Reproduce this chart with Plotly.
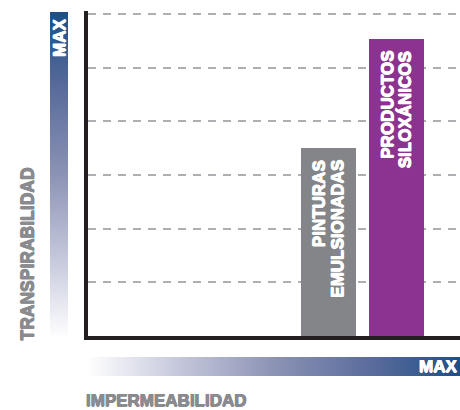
import base64
import plotly.graph_objects as go

# ---- data ----
categories = ["PINTURAS EMULSIONADAS", "PRODUCTOS SILOXÁNICOS"]
label_lines = [["PINTURAS", "EMULSIONADAS"], ["PRODUCTOS", "SILOXÁNICOS"]]
values = [3.5, 5.53]
bar_colors = ["#838589", "#8c3390"]
y_title = "TRANSPIRABILIDAD"
x_title = "IMPERMEABILIDAD"
max_label = "MAX"

W, H = 460, 410
FONT = "Liberation Sans, Arial, sans-serif"
GREY_TXT = "#8a8b8e"
AXIS_BLACK = "#231f20"

# plot area in pixels (top gridline at 14 px, baseline at 336 px)
Y_TOP = 6.05
left_px, right_px, bottom_px = 88, 460, 336
grid_px = (336 - 14) / 6.0
top_px = 14 - (Y_TOP - 6) * grid_px


def px_x(p):
    return p / W


def px_y(p):
    return 1 - p / H


def gradient_svg(vertical):
    if vertical:
        coords = 'x1="0" y1="1" x2="0" y2="0"'
    else:
        coords = 'x1="0" y1="0" x2="1" y2="0"'
    svg = (
        '<svg xmlns="http://www.w3.org/2000/svg" width="100" height="100" preserveAspectRatio="none">'
        f'<defs><linearGradient id="g" {coords}>'
        '<stop offset="0" stop-color="#ffffff"/>'
        '<stop offset="0.25" stop-color="#c4c7db"/>'
        '<stop offset="0.5" stop-color="#8c93b5"/>'
        '<stop offset="0.78" stop-color="#56699a"/>'
        '<stop offset="1" stop-color="#1e4f85"/>'
        '</linearGradient></defs>'
        '<rect x="0" y="0" width="100" height="100" fill="url(#g)"/></svg>'
    )
    return "data:image/svg+xml;base64," + base64.b64encode(svg.encode()).decode()


def tfont(size, color):
    heavy = f"0.5px 0 0 {color}, -0.5px 0 0 {color}, 0 0.5px 0 {color}, 0 -0.5px 0 {color}"
    return dict(family=FONT, size=size, color=color, weight="bold", shadow=heavy)


xcat = [0, 1]
fig = go.Figure()
fig.add_trace(go.Bar(
    x=xcat, y=values, width=0.81,
    marker=dict(color=bar_colors, line=dict(width=0)),
    hovertext=categories, hoverinfo="text",
))

# spacing: 68 px per category unit
unit = 68.0
x0 = 0 - (328.5 - left_px) / unit
x1 = 1 + (right_px - 396.5) / unit

fig.update_layout(
    width=W, height=H,
    margin=dict(l=0, r=0, t=0, b=0),
    paper_bgcolor="white", plot_bgcolor="white",
    showlegend=False,
    bargap=0,
    xaxis=dict(
        domain=[px_x(left_px), px_x(right_px)],
        range=[x0, x1], showgrid=False, zeroline=False,
        showticklabels=False, ticks="",
        showline=True, linewidth=4, linecolor=AXIS_BLACK,
        fixedrange=True,
    ),
    yaxis=dict(
        domain=[px_y(bottom_px), px_y(top_px)],
        range=[0, Y_TOP], dtick=1, tick0=0,
        showgrid=True, gridcolor="#adafb2", gridwidth=2, griddash="8px,7px",
        zeroline=False, showticklabels=False, ticks="",
        showline=True, linewidth=4, linecolor=AXIS_BLACK,
        fixedrange=True,
    ),
    images=[
        dict(source=gradient_svg(True), xref="paper", yref="paper",
             x=px_x(50), y=px_y(12), sizex=18 / W, sizey=326 / H,
             xanchor="left", yanchor="top", sizing="stretch", layer="below"),
        dict(source=gradient_svg(False), xref="paper", yref="paper",
             x=px_x(87), y=px_y(357), sizex=(460 - 87) / W, sizey=19 / H,
             xanchor="left", yanchor="top", sizing="stretch", layer="below"),
    ],
)

annotations = []
for xc, v, lines in zip(xcat, values, label_lines):
    for i, line in enumerate(lines):
        annotations.append(dict(
            x=xc, y=v, xref="x", yref="y", text=line, showarrow=False,
            textangle=-90, xanchor="center", yanchor="top",
            xshift=-9 + 18 * i, yshift=-10,
            font=tfont(17, "white"),
        ))

annotations += [
    dict(x=px_x(59), y=px_y(17), xref="paper", yref="paper", text=max_label,
         showarrow=False, textangle=-90, xanchor="center", yanchor="top",
         font=tfont(17, "white")),
    dict(x=px_x(459), y=px_y(366.5), xref="paper", yref="paper", text=max_label,
         showarrow=False, xanchor="right", yanchor="middle",
         font=tfont(17, "white")),
    dict(x=px_x(27), y=px_y(343), xref="paper", yref="paper", text=y_title,
         showarrow=False, textangle=-90, xanchor="center", yanchor="bottom",
         font=tfont(17.5, GREY_TXT)),
    dict(x=px_x(84), y=px_y(400.5), xref="paper", yref="paper", text=x_title,
         showarrow=False, xanchor="left", yanchor="middle",
         font=tfont(17, GREY_TXT)),
]
fig.update_layout(annotations=annotations)

fig.write_html(
    "out.html",
    config={"displayModeBar": False},
    post_script="document.body.style.margin='0';document.body.style.overflow='hidden';",
)
